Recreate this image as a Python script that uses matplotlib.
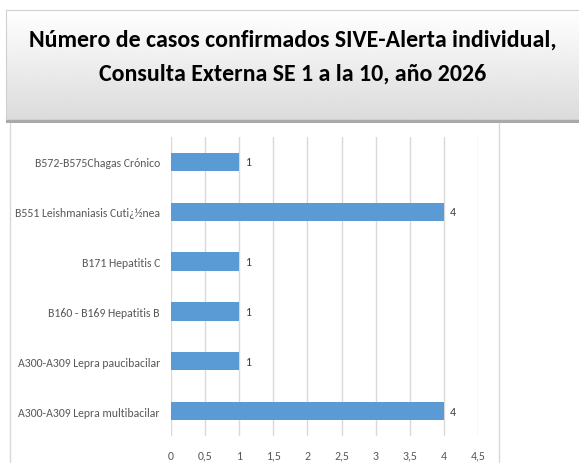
import numpy as np
import matplotlib
matplotlib.use("Agg")
from matplotlib import pyplot as plt
from matplotlib import font_manager

categories = [
    "A300-A309 Lepra multibacilar",
    "A300-A309 Lepra paucibacilar",
    "B160 - B169 Hepatitis B",
    "B171 Hepatitis C",
    "B551 Leishmaniasis Cuti¿½nea",
    "B572-B575Chagas Crónico",
]
values = [4, 1, 1, 1, 4, 1]
xticks = [0, 0.5, 1, 1.5, 2, 2.5, 3, 3.5, 4, 4.5]
xtick_labels = ["0", "0,5", "1", "1,5", "2", "2,5", "3", "3,5", "4", "4,5"]
title = "Número de casos confirmados SIVE-Alerta individual,\nConsulta Externa SE 1 a la 10, año 2026"

# Calibri look-alike if present, else Liberation Sans
names = {f.name for f in font_manager.fontManager.ttflist}
base = "Carlito" if "Carlito" in names else "Liberation Sans"
fam = [base, "DejaVu Sans"]

W, H = 579, 464
fig = plt.figure(figsize=(W / 100, H / 100), dpi=100)


def px(x0, y0, x1, y1):
    """Pixel box (top-left origin) to figure fraction rect"""
    return [x0 / W, 1 - y1 / H, (x1 - x0) / W, (y1 - y0) / H]


# title box with vertical gradient and shadow
shadow = fig.add_axes(px(6, 12, 582, 124))
shadow.set_axis_off()
shadow.add_patch(plt.Rectangle((0, 0), 1, 1, color="#a8a8a8", transform=shadow.transAxes))
tb = fig.add_axes(px(6, 11, 582, 120))
grad = np.linspace(1.0, 0.86, 100).reshape(-1, 1)
tb.imshow(grad, cmap="gray", vmin=0, vmax=1, aspect="auto", extent=(0, 1, 0, 1))
tb.set_xlim(0, 1)
tb.set_ylim(0, 1)
tb.set_xticks([])
tb.set_yticks([])
for s in tb.spines.values():
    s.set_color("#d0d0d0")
fig.text(0.5 * (6 + 579) / W, 1 - 57 / H, title, ha="center", va="center",
         fontsize=17.2, fontweight="bold", linespacing=1.75, family=fam)

# chart area frame lines
fig.add_artist(plt.Line2D([10 / W, 10 / W], [0, 1 - 124 / H], color="#d9d9d9", lw=1))
fig.add_artist(plt.Line2D([499 / W, 499 / W], [0, 1 - 124 / H], color="#d9d9d9", lw=1))

ax = fig.add_axes(px(171, 138, 478, 437))
y = np.arange(len(categories))
ax.barh(y, values, height=0.37, color="#5b9bd5", zorder=2)
for yi, v in zip(y, values):
    ax.annotate(str(v), (v, yi), xytext=(4.5, 0), textcoords="offset points",
                va="center", ha="left", fontsize=8.5, color="#404040", family=fam)
ax.set_xlim(0, 4.5)
ax.set_ylim(-0.5, len(categories) - 0.5)
ax.set_xticks(xticks)
ax.set_xticklabels(xtick_labels, family=fam, fontsize=8.5, color="#595959")
ax.set_yticks(y)
ax.set_yticklabels(categories, family=fam, fontsize=8.5, color="#595959")
ax.tick_params(length=0)
ax.tick_params(axis="x", pad=10)
ax.tick_params(axis="y", pad=8)
ax.grid(axis="x", color="#d9d9d9", lw=1, zorder=0)
for s in ax.spines.values():
    s.set_visible(False)

fig.savefig("out.png", dpi=100)
